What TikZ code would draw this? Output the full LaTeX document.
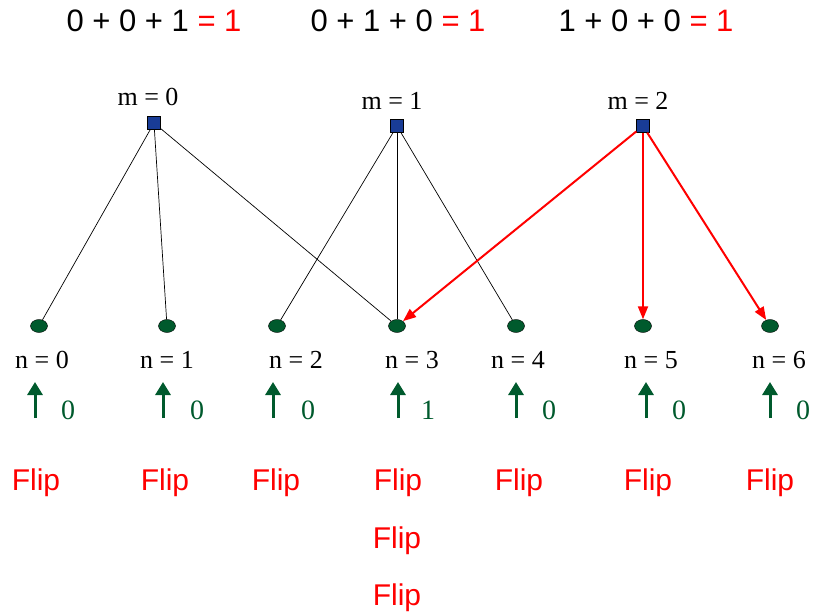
\documentclass[tikz,border=0pt]{standalone}
\usepackage{fontspec}
\setmainfont{Liberation Serif}
\newfontfamily\arialfont{Liberation Sans}
\usepackage{tikz}
\usetikzlibrary{arrows.meta, shapes.geometric, positioning}
\usepackage{xcolor}
\definecolor{mblue}{RGB}{25,60,150}
\definecolor{ngreen}{RGB}{0,90,45}

\begin{document}
\begin{tikzpicture}[
    x=1pt, y=-1pt,
    mnode/.style={rectangle, draw=black, fill=mblue, minimum size=13pt, inner sep=0pt},
    nnode/.style={ellipse, draw=black, fill=ngreen, minimum width=17pt, minimum height=13pt, inner sep=0pt},
    idx/.style={font=\fontsize{26}{29}\selectfont},
    sumtxt/.style={font=\arialfont\fontsize{31}{34}\selectfont},
    fliptxt/.style={font=\arialfont\fontsize{30}{33}\selectfont, text=red},
    bit/.style={font=\fontsize{28}{30}\selectfont, text=ngreen},
    edge/.style={black, line width=0.7pt},
    redge/.style={red, line width=2pt, -{Triangle[length=13pt, width=10pt]}},
    spin/.style={ngreen, line width=3pt, -{Triangle[length=13pt, width=15pt]}},
  ]
    \useasboundingbox (0,0) rectangle (819,612);
    % sums
    \node[sumtxt] (s0) at (154,21) {0 + 0 + 1 \textcolor{red}{= 1}};
    \node[sumtxt] (s1) at (398,21) {0 + 1 + 0 \textcolor{red}{= 1}};
    \node[sumtxt] (s2) at (646,21) {1 + 0 + 0 \textcolor{red}{= 1}};
    % check nodes
    \node[mnode] (m0) at (154,123) {};
    \node[mnode] (m1) at (397,126) {};
    \node[mnode] (m2) at (643,126) {};
    \node[idx] (lm0) at (148,97) {m = 0};
    \node[idx] (lm1) at (392,101) {m = 1};
    \node[idx] (lm2) at (638,101) {m = 2};
    % bit nodes
    \node[nnode] (n0) at (39,326) {};
    \node[nnode] (n1) at (167,326) {};
    \node[nnode] (n2) at (277,326) {};
    \node[nnode] (n3) at (397,326) {};
    \node[nnode] (n4) at (516,326) {};
    \node[nnode] (n5) at (643,326) {};
    \node[nnode] (n6) at (770,326) {};
    \node[idx] (ln0) at (42,360) {n = 0};
    \node[idx] (ln1) at (167,360) {n = 1};
    \node[idx] (ln2) at (296,360) {n = 2};
    \node[idx] (ln3) at (412,360) {n = 3};
    \node[idx] (ln4) at (518,360) {n = 4};
    \node[idx] (ln5) at (651,360) {n = 5};
    \node[idx] (ln6) at (779,360) {n = 6};
    % edges
    \draw[edge] (m0) -- (n0);
    \draw[edge] (m0) -- (n1);
    \draw[edge] (m0) -- (n3);
    \draw[edge] (m1) -- (n2);
    \draw[edge] (m1) -- (n3);
    \draw[edge] (m1) -- (n4);
    \draw[redge] (m2) -- (n3);
    \draw[redge] (m2) -- (n5);
    \draw[redge] (m2) -- (n6);
    % spins
    \coordinate (a0) at (35,418);  \coordinate (b0) at (35,382);
    \coordinate (a1) at (163,418); \coordinate (b1) at (163,382);
    \coordinate (a2) at (273,418); \coordinate (b2) at (273,382);
    \coordinate (a3) at (398,418); \coordinate (b3) at (398,382);
    \coordinate (a4) at (516,418); \coordinate (b4) at (516,382);
    \coordinate (a5) at (646,418); \coordinate (b5) at (646,382);
    \coordinate (a6) at (770,418); \coordinate (b6) at (770,382);
    \draw[spin] (a0) -- (b0);
    \draw[spin] (a1) -- (b1);
    \draw[spin] (a2) -- (b2);
    \draw[spin] (a3) -- (b3);
    \draw[spin] (a4) -- (b4);
    \draw[spin] (a5) -- (b5);
    \draw[spin] (a6) -- (b6);
    \node[bit] (v0) at (68,410) {0};
    \node[bit] (v1) at (197,410) {0};
    \node[bit] (v2) at (308,410) {0};
    \node[bit] (v3) at (428,410) {1};
    \node[bit] (v4) at (549,410) {0};
    \node[bit] (v5) at (679,410) {0};
    \node[bit] (v6) at (803,410) {0};
    % flips
    \node[fliptxt] (f0) at (36,483) {Flip};
    \node[fliptxt] (f1) at (165,483) {Flip};
    \node[fliptxt] (f2) at (276,483) {Flip};
    \node[fliptxt] (f3) at (398,483) {Flip};
    \node[fliptxt] (f4) at (519,483) {Flip};
    \node[fliptxt] (f5) at (648,483) {Flip};
    \node[fliptxt] (f6) at (770,483) {Flip};
    \node[fliptxt] (f3b) at (397,541) {Flip};
    \node[fliptxt] (f3c) at (397,598) {Flip};
  \end{tikzpicture}
\end{document}
